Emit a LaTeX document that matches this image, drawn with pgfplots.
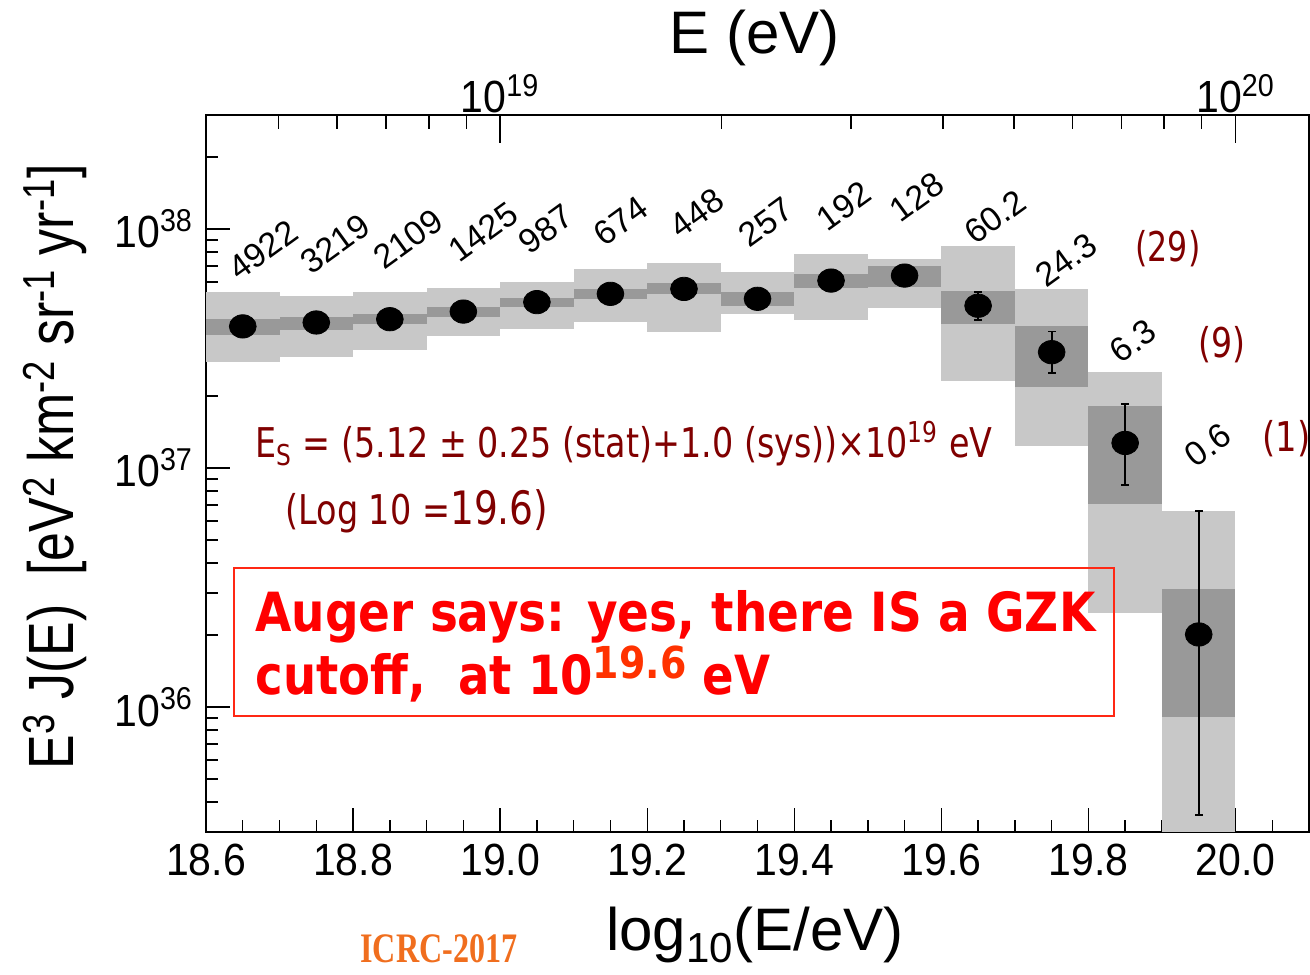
\documentclass[border=0pt]{standalone}
\usepackage{pgfplots}
\pgfplotsset{compat=1.18}
\usepackage{graphicx}
\usepackage{fontspec}
\setmainfont{Liberation Sans}
\newfontfamily\tah{DejaVu Sans}
\newfontfamily\timesb{Liberation Serif}

\definecolor{lgray}{RGB}{200,200,200}
\definecolor{dgray}{RGB}{153,153,153}
\definecolor{dred}{RGB}{128,0,0}
\definecolor{boxred}{RGB}{255,40,20}
\definecolor{supred}{RGB}{255,50,0}
\definecolor{icrc}{RGB}{240,110,30}

% box: xleft, xright, low, high, colour
\newcommand{\bx}[5]{\addplot[fill=#5,draw=none,forget plot] coordinates {(#1,#3) (#2,#3) (#2,#4) (#1,#4)} -- cycle;}
\newcommand{\eb}[3]{\addplot[black,line width=0.9pt,mark=-,mark size=2pt,forget plot] coordinates {(#1,#2) (#1,#3)};}

\begin{document}
\begin{tikzpicture}
\begin{axis}[
  name=main,
  scale only axis, width=551.5pt, height=358.5pt,
  xmin=18.6, xmax=20.1,
  ymode=log, ymin=3e35, ymax=3e38,
  axis line style={line width=1pt},
  tick align=inside,
  xtick pos=bottom, ytick pos=left,
  xtick={18.6,18.8,19.0,19.2,19.4,19.6,19.8,20.0},
  xticklabels={18.6,18.8,19.0,19.2,19.4,19.6,19.8,20.0},
  minor xtick={18.65,18.7,18.75,18.85,18.9,18.95,19.05,19.1,19.15,19.25,19.3,19.35,19.45,19.5,19.55,19.65,19.7,19.75,19.85,19.9,19.95,20.05},
  ytick={1e36,1e37,1e38},
  yticklabels={10\textsuperscript{36},10\textsuperscript{37},10\textsuperscript{38}},
  minor ytick={4e35,5e35,6e35,7e35,8e35,9e35,2e36,3e36,4e36,5e36,6e36,7e36,8e36,9e36,2e37,3e37,4e37,5e37,6e37,7e37,8e37,9e37,2e38},
  major tick length=12pt, minor tick length=6pt,
  every tick/.style={black,line width=0.7pt},
  xticklabel style={font=\fontsize{20.5}{24}\selectfont, yshift=-2pt, yscale=1.1},
  yticklabel style={font=\fontsize{20.5}{24}\selectfont, xshift=-3pt, yscale=1.1},
]
% light (total systematic) boxes
\bx{18.6}{18.7}{2.78e37}{5.47e37}{lgray}
\bx{18.7}{18.8}{2.90e37}{5.26e37}{lgray}
\bx{18.8}{18.9}{3.10e37}{5.47e37}{lgray}
\bx{18.9}{19.0}{3.55e37}{5.67e37}{lgray}
\bx{19.0}{19.1}{3.82e37}{6.02e37}{lgray}
\bx{19.1}{19.2}{4.06e37}{6.80e37}{lgray}
\bx{19.2}{19.3}{3.71e37}{7.23e37}{lgray}
\bx{19.3}{19.4}{4.41e37}{6.63e37}{lgray}
\bx{19.4}{19.5}{4.17e37}{7.86e37}{lgray}
\bx{19.5}{19.6}{4.68e37}{7.49e37}{lgray}
\bx{19.6}{19.7}{2.32e37}{8.49e37}{lgray}
\bx{19.7}{19.8}{1.23e37}{5.61e37}{lgray}
\bx{19.8}{19.9}{2.46e36}{2.53e37}{lgray}
\bx{19.9}{20.0}{1e35}{6.59e36}{lgray}
% dark boxes
\bx{18.6}{18.7}{3.61e37}{4.21e37}{dgray}
\bx{18.7}{18.8}{3.78e37}{4.29e37}{dgray}
\bx{18.8}{18.9}{4.01e37}{4.41e37}{dgray}
\bx{18.9}{19.0}{4.29e37}{4.72e37}{dgray}
\bx{19.0}{19.1}{4.72e37}{5.15e37}{dgray}
\bx{19.1}{19.2}{5.10e37}{5.61e37}{dgray}
\bx{19.2}{19.3}{5.35e37}{5.95e37}{dgray}
\bx{19.3}{19.4}{4.78e37}{5.42e37}{dgray}
\bx{19.4}{19.5}{5.67e37}{6.49e37}{dgray}
\bx{19.5}{19.6}{5.74e37}{7.00e37}{dgray}
\bx{19.6}{19.7}{4.01e37}{5.52e37}{dgray}
\bx{19.7}{19.8}{2.19e37}{3.91e37}{dgray}
\bx{19.8}{19.9}{7.09e36}{1.82e37}{dgray}
\bx{19.9}{20.0}{9.07e35}{3.12e36}{dgray}
% statistical error bars
\eb{19.65}{4.17e37}{5.46e37}
\eb{19.75}{2.49e37}{3.72e37}
\eb{19.85}{8.51e36}{1.85e37}
\eb{19.95}{3.52e35}{6.59e36}
% flux points
\addplot[only marks, mark=*, mark size=5.83pt, mark options={xscale=1.15, fill=black, draw=black}] coordinates {
 (18.65,3.91e37) (18.75,4.06e37) (18.85,4.19e37) (18.95,4.51e37) (19.05,4.94e37)
 (19.15,5.35e37) (19.25,5.61e37) (19.35,5.10e37) (19.45,6.08e37) (19.55,6.38e37)
 (19.65,4.77e37) (19.75,3.05e37) (19.85,1.272e37) (19.95,2.01e36)};
\coordinate (BL) at (rel axis cs:0,0);
\end{axis}
\begin{axis}[
  scale only axis, width=551.5pt, height=358.5pt,
  xmin=18.6, xmax=20.1, ymin=0, ymax=1,
  axis x line*=top, axis y line=none,
  axis line style={line width=1pt,-},
  tick align=inside,
  xtick={19,20},
  xticklabels={10\textsuperscript{19},10\textsuperscript{20}},
  minor xtick={18.699,18.778,18.845,18.903,18.954,19.301,19.477,19.602,19.699,19.778,19.845,19.903,19.954},
  major tick length=14pt, minor tick length=7pt,
  every tick/.style={black,line width=0.7pt},
  xticklabel style={font=\fontsize{20.5}{24}\selectfont, yshift=-3pt, yscale=1.1},
]
\addplot[draw=none] coordinates {(19,0.5)};
\end{axis}
\begin{scope}[shift={(BL)}, x=0.5pt, y=-0.5pt, shift={(-206,-832)}]
% event counts
\begin{scope}[every node/.style={rotate=36, font=\fontsize{17}{20}\selectfont, inner sep=0pt}]
\node at (263,250) {4922};
\node at (335,244) {3219};
\node at (408,239) {2109};
\node at (483,232) {1425};
\node at (546,229) {987};
\node at (621,221) {674};
\node at (697,213) {448};
\node at (766,222) {257};
\node at (844,206) {192};
\node at (917,197) {128};
\node at (995,217) {60.2};
\node at (1066,260) {24.3};
\node at (1133,341) {6.3};
\node at (1208,445) {0.6};
\end{scope}
\begin{scope}[every node/.style={anchor=base west, inner sep=0pt, text=dred, font=\tah\fontsize{20.5}{24}\selectfont}]
\node at (1135,262) {\resizebox{32.5pt}{\height}{(29)}};
\node at (1198,358) {\resizebox{23.5pt}{\height}{(9)}};
\node at (1262,452) {\resizebox{24pt}{\height}{(1)}};
\node at (255,458) {\resizebox{368.5pt}{\height}{E\textsubscript{S} = (5.12 ± 0.25 (stat)+1.0 (sys))×10\textsuperscript{19} eV}};
\node at (285,525) {\resizebox{131.5pt}{\height}{(Log 10 ={\fontsize{23}{26}\selectfont 19.6)}}};
\end{scope}
\draw[boxred, line width=1pt] (234,568) rectangle (1114,716);
\begin{scope}[every node/.style={anchor=base west, inner sep=0pt, text=red, font=\tah\bfseries\fontsize{27}{32}\selectfont}]
\node at (255,632) {\resizebox{420pt}{\height}{Auger says: yes, there IS a GZK}};
\node at (255,695) {\resizebox{257.5pt}{\height}{cutoff,~~at 10\raisebox{8.5pt}{\fontsize{22}{26}\selectfont\color{supred}19.6} eV}};
\end{scope}
% axis titles
\node[anchor=base, font=\fontsize{30}{34}\selectfont, inner sep=0pt] at (755,54) {E (eV)};
\node[anchor=base, font=\fontsize{30}{34}\selectfont, inner sep=0pt] at (755,950) {log\textsubscript{10}(E/eV)};
\node[rotate=90, font=\fontsize{32}{36}\selectfont, inner sep=0pt] at (55,467) {\resizebox{302.5pt}{\height}{E\textsuperscript{3} J(E)~~[eV\textsuperscript{2} km\textsuperscript{-2} sr\textsuperscript{-1} yr\textsuperscript{-1}]}};
\node[anchor=base west, inner sep=0pt, text=icrc, font=\timesb\bfseries\fontsize{21}{24}\selectfont] at (360,962) {\resizebox{78.5pt}{\height}{ICRC-2017}};
\pgfresetboundingbox
\path[use as bounding box] (0,0) rectangle (1310,974);
\end{scope}
\end{tikzpicture}
\end{document}
